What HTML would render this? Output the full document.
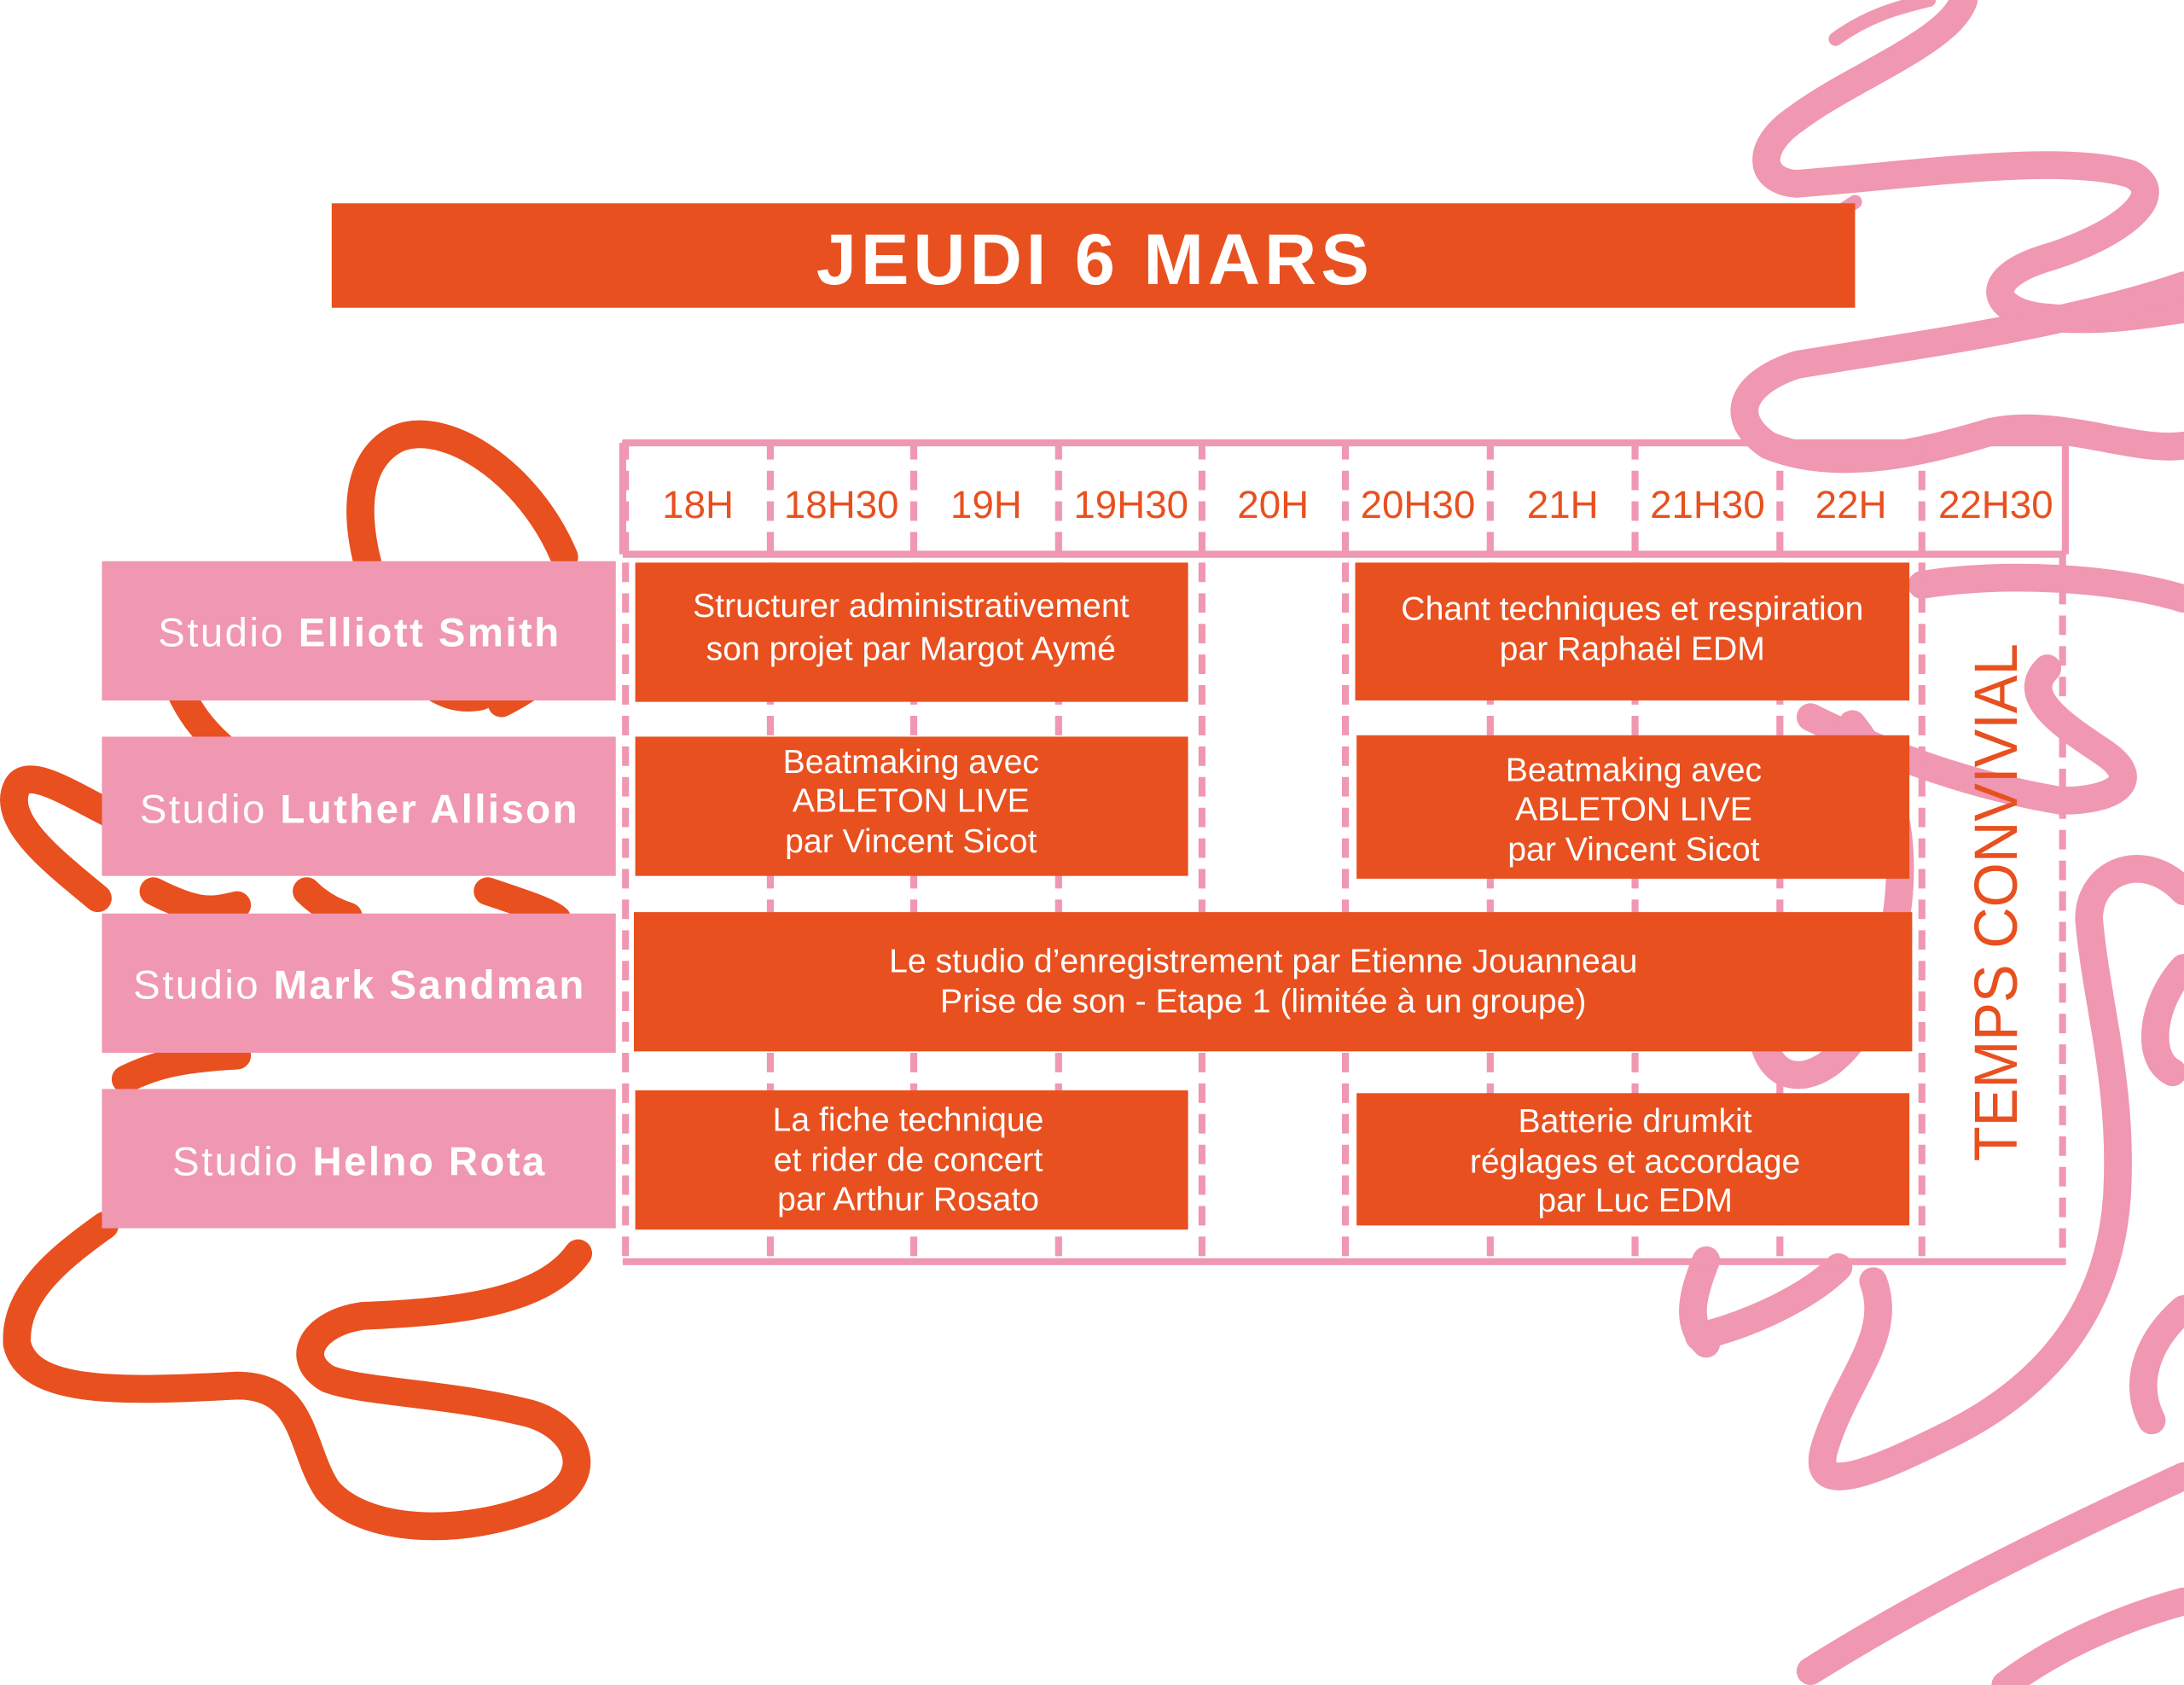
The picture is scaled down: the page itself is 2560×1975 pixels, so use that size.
<!DOCTYPE html>
<html><head><meta charset="utf-8"><style>
html,body{margin:0;padding:0;background:#fff;width:2560px;height:1975px;overflow:hidden}
svg{display:block}
text{font-family:"Liberation Sans",sans-serif}
</style></head><body>
<svg width="2560" height="1975" viewBox="0 0 1568 1210" xmlns="http://www.w3.org/2000/svg">
<g fill="none" stroke-linecap="round" stroke-linejoin="round">
<g stroke="#E8501F" stroke-width="20">
<path d="M405 400 C380 340,320 300,285 315 C245 335,255 400,285 460 C300 490,320 505,345 500"/>
<path d="M360 505 C390 490,410 470,420 450"/>
<path d="M120 470 C130 510,150 530,170 545"/>
<path d="M80 585 C50 570,20 550,12 565 C0 590,40 620,70 645"/>
<path d="M110 640 C140 655,150 655,170 650"/>
<path d="M220 640 C230 650,240 655,250 658"/>
<path d="M350 640 C380 650,395 655,400 660"/>
<path d="M90 775 C110 765,130 760,170 758"/>
<path d="M75 880 C40 905,10 930,12 965 C20 1000,80 1000,170 995 C220 995,215 1040,235 1070 C260 1100,330 1105,390 1080 C430 1060,415 1025,380 1015 C320 1000,260 1000,235 990 C210 975,225 950,260 945 C330 942,390 935,415 900"/>
</g>
<g stroke="#F097B2" stroke-width="20">
<path d="M1318 28 C1340 12,1360 6,1385 0" stroke-width="10"/>
<path d="M1410 0 C1400 30,1330 55,1290 85 C1260 105,1262 130,1290 132 C1380 125,1480 110,1530 125 C1560 140,1520 170,1470 185 C1420 200,1430 225,1470 228 C1510 232,1545 225,1568 222"/>
<path d="M1568 205 C1480 235,1360 250,1290 262 C1250 275,1240 300,1270 320 C1320 340,1380 325,1430 310 C1480 300,1530 325,1568 320"/>
<path d="M1332 145 C1300 165,1270 190,1240 210" stroke-width="10"/>
<path d="M1380 420 C1440 410,1520 415,1568 430"/>
<path d="M1470 480 C1450 500,1480 520,1510 540 C1540 560,1520 575,1480 575 C1420 565,1360 545,1300 515"/>
<path d="M1330 520 C1370 570,1375 640,1345 720 C1320 780,1270 790,1265 740"/>
<path d="M1568 640 C1540 610,1500 625,1500 660 C1505 720,1525 780,1520 860 C1515 930,1480 990,1400 1030 C1340 1060,1300 1075,1310 1040 C1325 990,1360 960,1345 920"/>
<path d="M1568 695 C1545 720,1540 760,1560 770"/>
<path d="M1220 960 C1260 950,1300 930,1320 910"/>
<path d="M1225 905 C1215 930,1210 950,1225 965"/>
<path d="M1300 1200 C1380 1150,1460 1110,1568 1060"/>
<path d="M1440 1210 C1480 1180,1530 1160,1568 1150"/>
<path d="M1568 940 C1545 960,1530 990,1545 1020"/>
</g>
</g>

<rect x="238" y="146" width="1094" height="75" fill="#E8501F"/>
<text x="786" y="204" fill="#fff" font-size="52" font-weight="bold" text-anchor="middle" letter-spacing="3">JEUDI 6 MARS</text>

<g stroke="#F097B2" stroke-width="5" fill="none">
<path d="M447 318 H1483 M447 398 H1483 M447 906 H1483 M447 318 V398 M1483 318 V398"/>
<g stroke-dasharray="14 8">
<path d="M449 316 V908 M553 316 V908 M656 316 V908 M760 316 V908 M863 316 V908 M966 316 V908 M1070 316 V908 M1174 316 V908 M1278 316 V908 M1380 316 V908 M1481 398 V908"/>
</g>
</g>
<g fill="#E8501F" font-size="28" text-anchor="middle">
<text x="501" y="372">18H</text><text x="604" y="372">18H30</text><text x="708" y="372">19H</text><text x="812" y="372">19H30</text><text x="914" y="372">20H</text><text x="1018" y="372">20H30</text><text x="1122" y="372">21H</text><text x="1226" y="372">21H30</text><text x="1329" y="372">22H</text><text x="1433" y="372">22H30</text>
</g>

<g fill="#F097B2">
<rect x="73" y="403" width="369" height="100"/>
<rect x="73" y="529" width="369" height="100"/>
<rect x="73" y="656" width="369" height="100"/>
<rect x="73" y="782" width="369" height="100"/>
</g>
<g fill="#fff" font-size="29" text-anchor="middle" letter-spacing="1.5">
<text x="258" y="464">Studio <tspan font-weight="bold">Elliott Smith</tspan></text>
<text x="258" y="591">Studio <tspan font-weight="bold">Luther Allison</tspan></text>
<text x="258" y="717">Studio <tspan font-weight="bold">Mark Sandman</tspan></text>
<text x="258" y="844">Studio <tspan font-weight="bold">Helno Rota</tspan></text>
</g>

<g fill="#E8501F">
<rect x="456" y="404" width="397" height="100"/>
<rect x="973" y="404" width="398" height="99"/>
<rect x="456" y="529" width="397" height="100"/>
<rect x="974" y="528" width="397" height="103"/>
<rect x="455" y="655" width="918" height="100"/>
<rect x="456" y="783" width="397" height="100"/>
<rect x="974" y="785" width="397" height="95"/>
</g>
<g fill="#fff" font-size="24" text-anchor="middle">
<text x="654" y="443">Structurer administrativement</text>
<text x="654" y="474">son projet par Margot Aymé</text>
<text x="1172" y="445">Chant techniques et respiration</text>
<text x="1172" y="474">par Raphaël EDM</text>
<text x="654" y="555">Beatmaking avec</text>
<text x="654" y="583">ABLETON LIVE</text>
<text x="654" y="612">par Vincent Sicot</text>
<text x="1173" y="561">Beatmaking avec</text>
<text x="1173" y="589">ABLETON LIVE</text>
<text x="1173" y="618">par Vincent Sicot</text>
<text x="907" y="698">Le studio d’enregistrement par Etienne Jouanneau</text>
<text x="907" y="727">Prise de son - Etape 1 (limitée à un groupe)</text>
<text x="652" y="812">La fiche technique</text>
<text x="652" y="841">et rider de concert</text>
<text x="652" y="869">par Arthur Rosato</text>
<text x="1174" y="813">Batterie drumkit</text>
<text x="1174" y="842">réglages et accordage</text>
<text x="1174" y="870">par Luc EDM</text>
</g>
<text transform="translate(1448,648) rotate(-90)" fill="#E8501F" font-size="44" text-anchor="middle" textLength="372" lengthAdjust="spacingAndGlyphs">TEMPS CONVIVIAL</text>
</svg>
</body></html>
